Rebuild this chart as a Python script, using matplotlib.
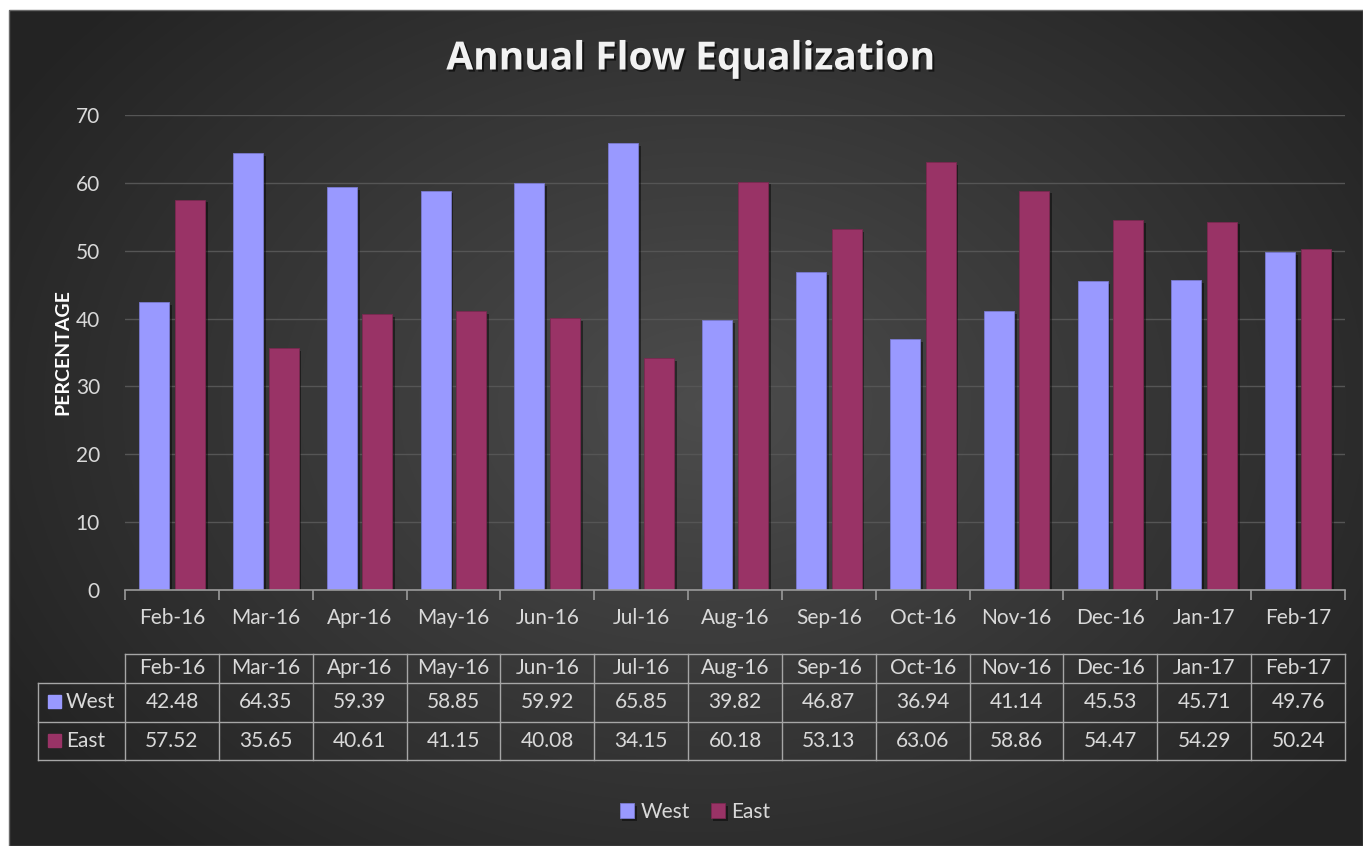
import numpy as np
import matplotlib.pyplot as plt
import matplotlib.patheffects as pe
from matplotlib.patches import Rectangle

plt.rcParams['font.family'] = ['Lato', 'DejaVu Sans']

months = ['Feb-16', 'Mar-16', 'Apr-16', 'May-16', 'Jun-16', 'Jul-16', 'Aug-16',
          'Sep-16', 'Oct-16', 'Nov-16', 'Dec-16', 'Jan-17', 'Feb-17']
west = [42.48, 64.35, 59.39, 58.85, 59.92, 65.85, 39.82, 46.87, 36.94, 41.14, 45.53, 45.71, 49.76]
east = [57.52, 35.65, 40.61, 41.15, 40.08, 34.15, 60.18, 53.13, 63.06, 58.86, 54.47, 54.29, 50.24]

WEST_C = '#9999FF'
EAST_C = '#993366'
TXT = '#d9d9d9'
FS = 15

W, H = 1363, 846
fig = plt.figure(figsize=(W / 100, H / 100), dpi=100, facecolor='white')

# background panel with radial gradient
bg = fig.add_axes([0, 0, 1, 1])
bg.set_xlim(0, W)
bg.set_ylim(H, 0)
bg.axis('off')
yy, xx = np.mgrid[0:H, 0:W]
r = np.sqrt(((xx - 700) / 760.0) ** 2 + ((yy - 400) / 560.0) ** 2)
shade = np.clip(0.30 - 0.15 * r, 0.14, 0.30)
img = np.dstack([shade, shade, shade])
bg.imshow(img, extent=(9, W, H, 10), aspect='auto', zorder=0)
bg.add_patch(Rectangle((9, 10), W - 9, H - 10, fill=False, ec='#6a6a6a', lw=1, zorder=1))

# main plot area
L, R, T, B = 125, 1345, 115, 590
ax = fig.add_axes([L / W, 1 - B / H, (R - L) / W, (B - T) / H])
ax.patch.set_alpha(0)
x = np.arange(len(months))
bw = 0.32
shadow = [pe.SimplePatchShadow(offset=(2, -2), shadow_rgbFace='black', alpha=0.45), pe.Normal()]
b1 = ax.bar(x - 0.19, west, bw, color=WEST_C, edgecolor='#7a7ad0', linewidth=0.6, zorder=3, label='West')
b2 = ax.bar(x + 0.19, east, bw, color=EAST_C, edgecolor='#7a2850', linewidth=0.6, zorder=3, label='East')
for b in list(b1) + list(b2):
    b.set_path_effects(shadow)

ax.set_xlim(-0.5, len(months) - 0.5)
ax.set_ylim(0, 70)
ax.set_yticks(range(0, 71, 10))
ax.grid(axis='y', color='#555555', lw=1, zorder=0)
for s in ['top', 'right', 'left']:
    ax.spines[s].set_visible(False)
ax.spines['bottom'].set_color('#9a9a9a')
ax.spines['bottom'].set_linewidth(1.2)
ax.spines['bottom'].set_zorder(4)
ax.set_xticks(x)
ax.set_xticklabels(months)
ax.set_xticks(np.arange(-0.5, len(months)), minor=True)
ax.tick_params(axis='x', which='major', length=0, pad=13, labelsize=FS, labelcolor=TXT)
ax.tick_params(axis='x', which='minor', length=7, width=1.2, color='#9a9a9a')
ax.tick_params(axis='y', length=0, pad=18, labelsize=FS, labelcolor=TXT)
ax.set_ylabel('PERCENTAGE', color='white', fontsize=14, fontweight='bold', labelpad=3)

fig.text(690 / W, 1 - 59 / H, 'Annual Flow Equalization', ha='center', va='center',
         color='#f2f2f2', fontsize=28, fontweight='bold', family=['Open Sans', 'DejaVu Sans'],
         path_effects=[pe.withSimplePatchShadow(offset=(1.5, -1.5), shadow_rgbFace='black', alpha=0.6)])

# data table drawn below the axis
col = (R - L) / len(months)
edges = [L + i * col for i in range(len(months) + 1)]
rows = [654, 683, 722, 760]
lc = '#a6a6a6'
lw = 1
left = 38
bg.plot([L, R], [rows[0], rows[0]], color=lc, lw=lw, zorder=2)
for yv in rows[1:]:
    bg.plot([left, R], [yv, yv], color=lc, lw=lw, zorder=2)
for xv in edges:
    bg.plot([xv, xv], [rows[0], rows[3]], color=lc, lw=lw, zorder=2)
bg.plot([left, left], [rows[1], rows[3]], color=lc, lw=lw, zorder=2)
for i, m in enumerate(months):
    cx = (edges[i] + edges[i + 1]) / 2
    bg.text(cx, (rows[0] + rows[1]) / 2, m, ha='center', va='center', color=TXT, fontsize=FS, zorder=3)
    bg.text(cx, (rows[1] + rows[2]) / 2, f'{west[i]:.2f}', ha='center', va='center', color=TXT, fontsize=FS, zorder=3)
    bg.text(cx, (rows[2] + rows[3]) / 2, f'{east[i]:.2f}', ha='center', va='center', color=TXT, fontsize=FS, zorder=3)
for k, (name, c) in enumerate([('West', WEST_C), ('East', EAST_C)]):
    yc = (rows[k + 1] + rows[k + 2]) / 2
    bg.add_patch(Rectangle((48, yc - 7), 13, 13, color=c, zorder=3))
    bg.text(66, yc, name, ha='left', va='center', color=TXT, fontsize=FS, zorder=3)

# legend at bottom
ax.legend(handles=[b1, b2], loc='center', bbox_to_anchor=(695 / W, 1 - 812 / H),
          bbox_transform=fig.transFigure, ncol=2, frameon=False, fontsize=FS,
          labelcolor=TXT, handlelength=0.7, handleheight=0.7, handletextpad=0.3,
          columnspacing=1.0)

fig.savefig('out.png', dpi=100, facecolor=fig.get_facecolor())
